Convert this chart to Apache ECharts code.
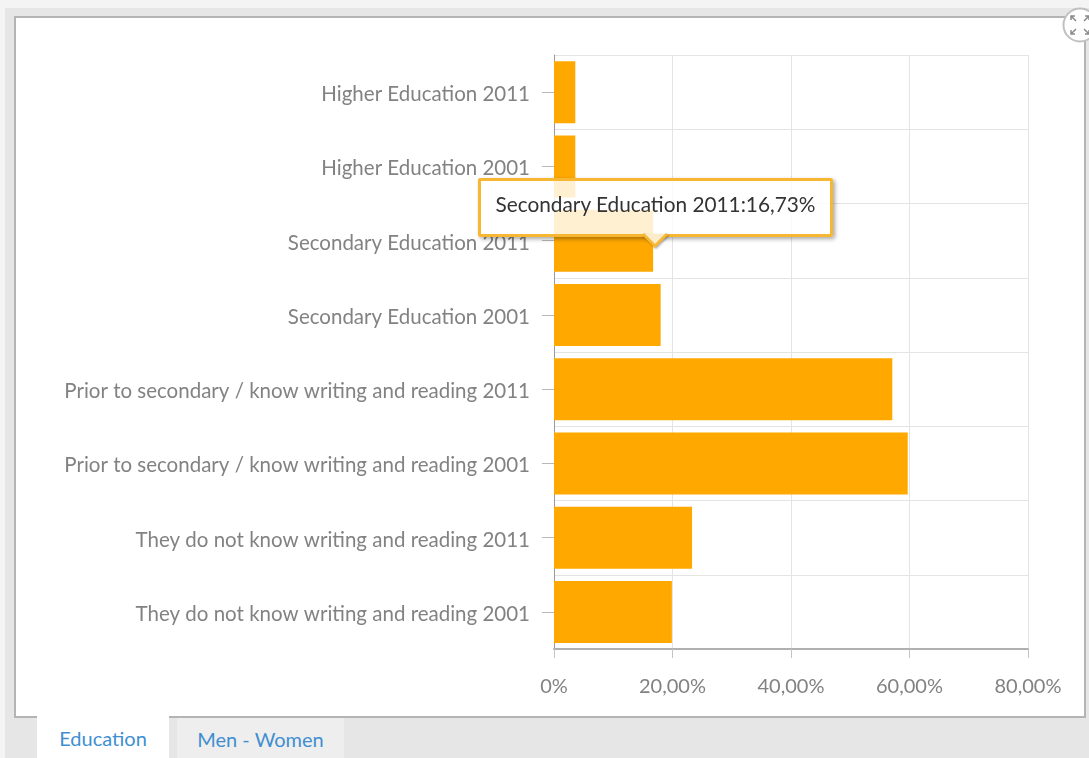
<!DOCTYPE html>
<html>
<head>
<meta charset="utf-8">
<title>Education</title>
<script src="https://cdn.jsdelivr.net/npm/echarts@6/dist/echarts.min.js"></script>
<style>
  html, body { margin: 0; padding: 0; width: 1089px; height: 758px; overflow: hidden; background: #f4f4f4; font-family: Lato, sans-serif; }
  #strip { position: absolute; left: 5px; top: 8px; width: 1084px; height: 750px; background: #e6e6e6; }
  #panel { position: absolute; left: 14px; top: 16px; width: 1068px; height: 698px; background: #fff; border: 2px solid #b4b4b4; }
  #bitFig { position: absolute; left: 0; top: 0; width: 1089px; height: 758px; }
  .tab { position: absolute; font-size: 20px; color: #3f8fd0; text-align: center; }
  #tab1 { left: 37px; width: 132px; top: 716px; height: 42px; background: #fff; line-height: 44px; }
  #tab2 { left: 177px; width: 167px; top: 718px; height: 40px; background: #eeeeee; line-height: 42px; }
  #expand { position: absolute; left: 1062px; top: 7px; }
</style>
</head>
<body>
<div id="strip"></div>
<div id="panel"></div>
<div id="bitFig"></div>
<div class="tab" id="tab1">Education</div>
<div class="tab" id="tab2">Men - Women</div>
<svg id="expand" width="36" height="36" viewBox="0 0 36 36">
  <circle cx="18" cy="18" r="16.5" fill="#fff" stroke="#c0c0c0" stroke-width="2"/>
  <g fill="none" stroke="#8a8a8a" stroke-width="1.5">
    <path d="M9 9 L14 14 M9 13 V9 H13"/>
    <path d="M27 9 L22 14 M27 13 V9 H23"/>
    <path d="M9 27 L14 22 M9 23 V27 H13"/>
    <path d="M27 27 L22 22 M27 23 V27 H23"/>
  </g>
</svg>
<script>
// 上から順のカテゴリ
const categories = [
  'Higher Education 2011',
  'Higher Education 2001',
  'Secondary Education 2011',
  'Secondary Education 2001',
  'Prior to secondary / know writing and reading 2011',
  'Prior to secondary / know writing and reading 2001',
  'They do not know writing and reading 2011',
  'They do not know writing and reading 2001'
]
const shares = [3.6, 3.6, 16.73, 18.0, 57.1, 59.7, 23.3, 19.9]
const xTicks = [0, 20, 40, 60, 80]
const xTickLabels = ['0%', '20,00%', '40,00%', '60,00%', '80,00%']
const activeIndex = 2
const activeLabel = 'Secondary Education 2011:16,73%'

const grey = '#828282'
const tipBorder = '#f7b733'
let myChart = echarts.init(document.getElementById('bitFig'))

// 吹き出しの三角はツールチップのHTMLの中に描く
const tipArrow = '<svg width="30" height="16" style="position:absolute;left:159px;top:53px;overflow:visible;filter:drop-shadow(1px 1px 1px rgba(0,0,0,0.35))">' +
  '<path d="M3 0 L15 12 L27 0" fill="#fdeccb" stroke="' + tipBorder + '" stroke-width="3"/></svg>'

myChart.setOption({
  animation: false,
  backgroundColor: 'transparent',
  textStyle: { fontFamily: 'Lato' },
  grid: { left: 554, right: 61, top: 55, bottom: 109 },
  xAxis: {
    type: 'value',
    min: 0,
    max: 80,
    interval: 20,
    axisLine: { show: true, lineStyle: { color: '#b0b0b0', width: 2 } },
    axisTick: { show: true, length: 9, lineStyle: { color: '#c4c4c4' } },
    splitLine: { show: true, lineStyle: { color: '#e4e4e4' } },
    axisLabel: {
      color: grey,
      fontSize: 20,
      margin: 28,
      formatter: v => xTickLabels[xTicks.indexOf(v)]
    }
  },
  yAxis: {
    type: 'category',
    inverse: true,
    data: categories,
    axisLine: { show: true, lineStyle: { color: '#9a9a9a' } },
    axisTick: { show: true, alignWithLabel: true, length: 12, lineStyle: { color: '#b8b8b8' } },
    splitLine: { show: true, lineStyle: { color: '#e4e4e4' } },
    axisLabel: {
      margin: 24,
      // ラベルを目盛りより少し下げる
      formatter: v => '{cat|' + v + '}',
      rich: { cat: { color: grey, fontSize: 20.5, fontFamily: 'Lato', padding: [5, 0, 0, 0] } }
    }
  },
  tooltip: {
    trigger: 'item',
    alwaysShowContent: true,
    transitionDuration: 0,
    backgroundColor: 'rgba(255,255,255,0.82)',
    borderColor: tipBorder,
    borderWidth: 3,
    padding: 0,
    extraCssText: 'border-radius:2px;box-shadow:2px 2px 4px rgba(0,0,0,0.35);overflow:visible;',
    formatter: () => '<div style="width:349px;height:53px;text-align:center;font:20.8px/45px Lato;color:#333">' + activeLabel + tipArrow + '</div>',
    position: () => {
      const p = myChart.convertToPixel({ seriesIndex: 0 }, [shares[activeIndex], activeIndex])
      return [p[0] - 175, p[1] - 63]
    }
  },
  series: [
    {
      type: 'bar',
      data: shares,
      barWidth: 62,
      itemStyle: { color: '#ffa900' },
      emphasis: { disabled: true }
    }
  ]
})

myChart.dispatchAction({ type: 'showTip', seriesIndex: 0, dataIndex: activeIndex })
</script>
</body>
</html>
